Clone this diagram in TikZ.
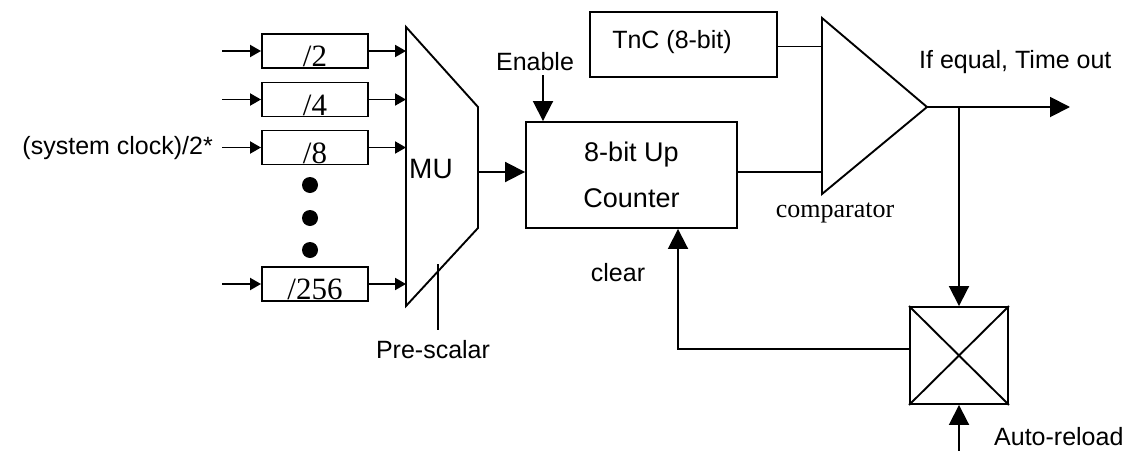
\documentclass[tikz,border=0pt]{standalone}
\usepackage{fontspec}
\newfontfamily\arialf{Liberation Sans}
\newfontfamily\timesf{Liberation Serif}
\usetikzlibrary{arrows.meta,calc}
\tikzset{
  wire/.style={line width=1.9pt},
  sarr/.style={wire,-{Triangle[length=11pt,width=12pt]}},
  barr/.style={wire,-{Triangle[length=20pt,width=20pt]}},
  divbox/.style={draw,line width=1.9pt,minimum width=106pt,minimum height=34pt,inner sep=0pt},
  divtxt/.style={font=\timesf\fontsize{31}{31}\selectfont,anchor=base,inner sep=0pt},
  lab/.style={font=\arialf\fontsize{25}{30}\selectfont,inner sep=0pt},
  serlab/.style={font=\timesf\fontsize{26}{30}\selectfont,inner sep=0pt},
  blk/.style={draw,line width=1.9pt,inner sep=0pt},
  dot/.style={circle,fill=black,minimum size=16pt,inner sep=0pt}
}
\begin{document}
\begin{tikzpicture}[x=1pt,y=-1pt]
\useasboundingbox (0,0) rectangle (1135,450);
% dividers
\node[divbox] (d2) at (315,51) {};
\node[divbox] (d4) at (315,99.5) {};
\node[divbox] (d8) at (315,147.5) {};
\node[divbox] (d256) at (315,284) {};
\node[divtxt] (t2) at ([yshift=2pt]d2.south) {/2};
\node[divtxt] (t4) at ([yshift=2pt]d4.south) {/4};
\node[divtxt] (t8) at ([yshift=2pt]d8.south) {/8};
\node[divtxt] (t256) at ([yshift=2pt]d256.south) {/256};
% dots
\node[dot] (p1) at (310,185) {};
\node[dot] (p2) at (310,218) {};
\node[dot] (p3) at (310,250) {};
% inputs
\coordinate (in) at (222,0);
\draw[sarr] (d2.west -| in) -- (d2.west);
\draw[sarr] (d4.west -| in) -- (d4.west);
\draw[sarr] (d8.west -| in) -- (d8.west);
\draw[sarr] (d256.west -| in) -- (d256.west);
\node[lab,anchor=east] (clk) at (213,148) {(system clock)/2*};
% MUX
\coordinate (m1) at (406,27);
\coordinate (m2) at (478,107);
\coordinate (m3) at (478,228);
\coordinate (m4) at (406,306);
\draw[wire,line join=miter] (m1) -- (m2) -- (m3) -- (m4) -- cycle;
\node[lab,anchor=west,font=\arialf\fontsize{28}{30}\selectfont] (mux) at (409,169) {MU};
\draw[sarr] (d2.east) -- (d2.east -| m1);
\draw[sarr] (d4.east) -- (d4.east -| m1);
\draw[sarr] (d8.east) -- (d8.east -| m1);
\draw[sarr] (d256.east) -- (d256.east -| m1);
% pre-scalar
\coordinate (pst) at (438,264);
\coordinate (psb) at (438,330);
\draw[wire] (pst) -- (psb);
\node[lab] (psl) at (433,350) {Pre-scalar};
% counter
\node[blk,minimum width=211pt,minimum height=106pt,align=center,
      font=\arialf\fontsize{27}{46}\selectfont] (cnt) at (631.5,175) {8-bit Up\\Counter};
\coordinate (mo) at (478,172);
\draw[barr] (mo) -- (mo -| cnt.west);
\node[lab] (en) at (535,62) {Enable};
\coordinate (enb) at (543,75);
\draw[barr] (enb) -- (enb |- cnt.north);
% TnC
\node[blk,minimum width=187pt,minimum height=65pt] (tnc) at (683.5,44.5) {};
\node[lab] (tnct) at (672,42) {TnC (8-bit)};
% comparator
\coordinate (c1) at (822,18);
\coordinate (c2) at (927,107);
\coordinate (c3) at (822,194);
\draw[wire,line join=miter] (c1) -- (c2) -- (c3) -- cycle;
\node[serlab] (cmp) at (835,213) {comparator};
\draw[wire] ([yshift=-2pt]tnc.east) -- ([yshift=-2pt]tnc.east -| c1);
\draw[wire] ([yshift=3pt]cnt.east) -- ([yshift=3pt]cnt.east -| c1);
% output
\coordinate (tout) at (1070,107);
\draw[barr] (c2) -- (tout);
\node[lab,anchor=west] (eq) at (919,62) {If equal, Time out};
% reload
\node[blk,minimum width=98pt,minimum height=97pt] (rl) at (959,355.5) {};
\draw[wire] (rl.north west) -- (rl.south east);
\draw[wire] (rl.north east) -- (rl.south west);
\coordinate (j) at (959,107);
\draw[barr] (j) -- (rl.north);
\coordinate (ar) at (959,452);
\draw[barr] (ar) -- (rl.south);
\node[lab,anchor=west] (arl) at (994,437) {Auto-reload};
% feedback
\coordinate (fb) at (678,0);
\draw[barr] ([yshift=6.5pt]rl.west) -| (cnt.south -| fb);
\node[lab] (clr) at (618,273) {clear};
\end{tikzpicture}
\end{document}
